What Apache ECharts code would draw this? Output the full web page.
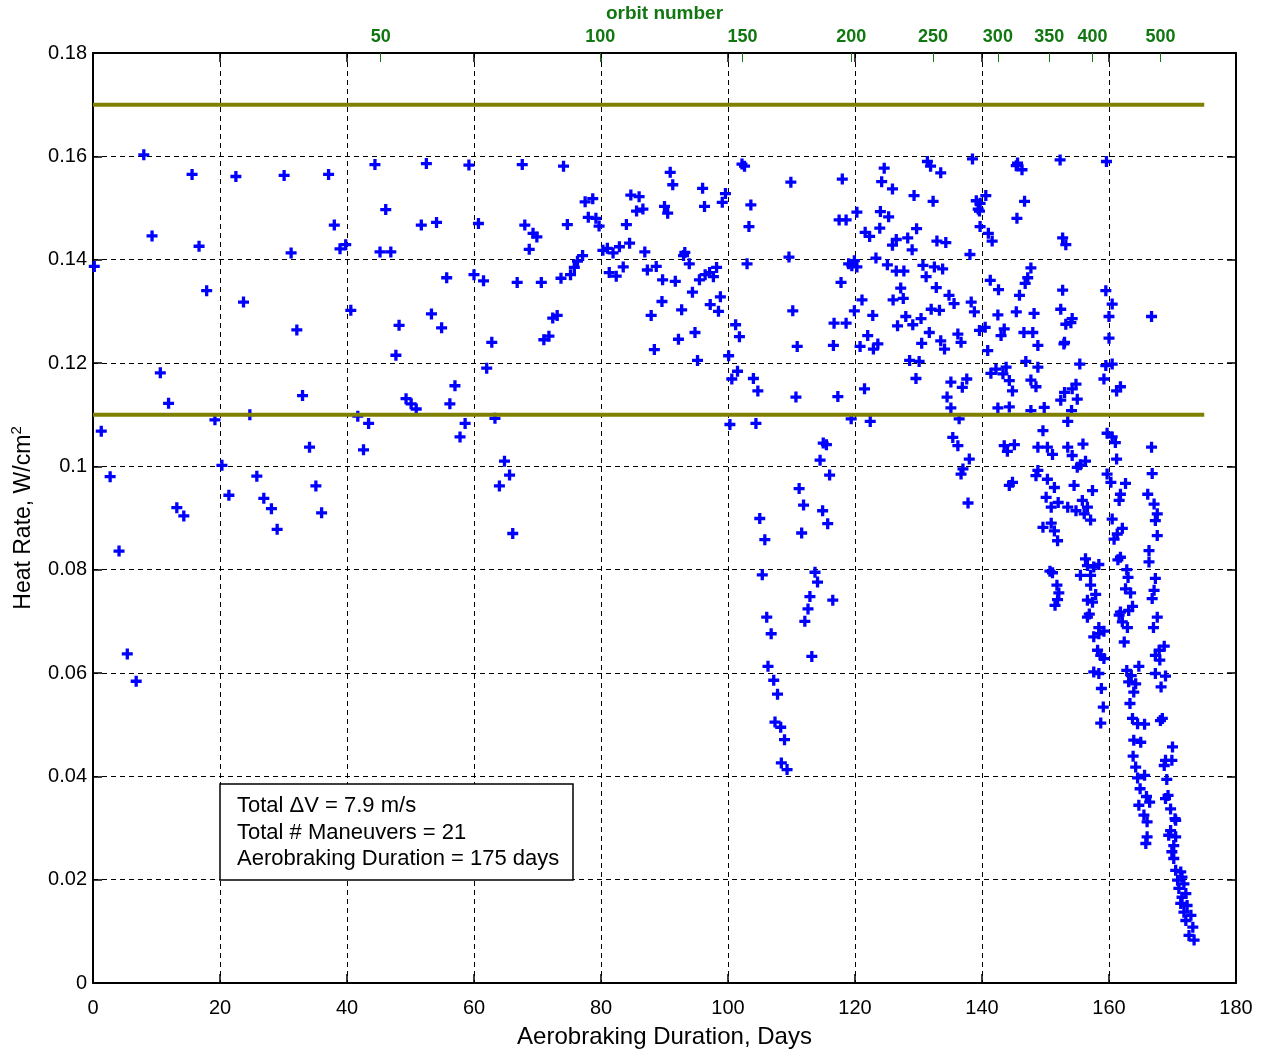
<!DOCTYPE html>
<html>
<head>
<meta charset="utf-8">
<script src="https://cdn.jsdelivr.net/npm/echarts@6/dist/echarts.min.js"></script>
<style>html,body{margin:0;padding:0;background:#fff;}#chart{width:1264px;height:1051px;}</style>
</head>
<body>
<div id="chart"></div>
<script>
// ---------- data (day, heat rate W/cm^2) ----------
const earlyPts = [
 [0.2,0.1387],[1.3,0.1068],[2.7,0.098],[4.1,0.0836],[5.4,0.0637],[6.8,0.0584],[8.0,0.1603],[9.3,0.1446],
 [10.6,0.1181],[11.9,0.1122],[13.2,0.092],[14.3,0.0904],[15.6,0.1565],[16.7,0.1426],[17.9,0.134],[19.2,0.109],
 [20.3,0.1002],[21.4,0.0944],[22.5,0.1561],[23.7,0.1318],[24.7,0.110],[25.8,0.0981],[26.9,0.0938],[28.1,0.0918],
 [29.0,0.0878],[30.1,0.1563],[31.2,0.1413],[32.1,0.1264],[33.0,0.1137],[34.1,0.1037],[35.1,0.0962],[36.0,0.091],
 [37.1,0.1565],[38.0,0.1467],[38.9,0.1421],[39.8,0.1429],[40.6,0.1302],[41.7,0.1097],[42.6,0.1032],[43.4,0.1083],
 [44.4,0.1584],[45.2,0.1415],[46.1,0.1497],[46.9,0.1415],[47.7,0.1215],[48.2,0.1273]
];
const midPts = [
 [49.3,0.1131],[50.1,0.1121],[50.9,0.1111],[51.7,0.1467],[52.5,0.1586],[53.3,0.1295],[54.1,0.1472],[54.9,0.1268],
 [55.7,0.1365],[56.2,0.1121],[57.0,0.1156],[57.8,0.1057],[58.6,0.1083],[59.2,0.1583],[60.0,0.1371],[60.7,0.147],
 [61.5,0.1359],[62.0,0.119],[62.8,0.124],[63.3,0.1093],[64.0,0.0962],[64.8,0.101],[65.6,0.0983],[66.1,0.087],
 [66.8,0.1356],[67.6,0.1584],[68.0,0.1467],[68.7,0.142],[69.3,0.1451],[69.9,0.1444],[70.6,0.1356],[71.0,0.1245],
 [71.8,0.1252],[72.4,0.1287],[73.1,0.1292],[73.7,0.1364],[74.1,0.1581],[74.7,0.1468],[75.2,0.1371],[75.8,0.1385],
 [76.3,0.1397],[77.1,0.1408],[77.5,0.1512],[78.0,0.1482],[78.7,0.1518],[79.2,0.148],[79.7,0.1465],[80.3,0.1418],
 [81.0,0.1422],[81.3,0.1375],[81.9,0.1413],[82.4,0.1368],[82.9,0.1425],[83.5,0.1386],[84.0,0.1468],[84.5,0.1432],
 [84.7,0.1525],[85.6,0.1494],[86.0,0.1522],[86.6,0.1498],[86.9,0.1415],[87.3,0.138],[87.9,0.1292],[88.4,0.1226],
 [88.7,0.1387],[89.6,0.1319],[89.7,0.1361],[90.0,0.1503],[90.5,0.149],[90.9,0.1569],[91.3,0.1545],[91.7,0.1358],
 [92.2,0.1246],[92.7,0.1303],[93.0,0.1408],[93.2,0.1414],[93.9,0.1392],[94.4,0.1337],[94.8,0.1259],[95.2,0.1205],
 [95.5,0.1361],[96.0,0.1538],[96.3,0.1503],[96.4,0.1371],[97.1,0.1375],[97.2,0.1313],[97.7,0.1367],[98.2,0.1385],
 [98.5,0.13],[98.8,0.1328],[99.1,0.1511],[99.6,0.1528],[100.1,0.1214],[100.3,0.1081],[100.6,0.1169],[101.2,0.1274],
 [101.5,0.1184],[101.8,0.1251],[102.2,0.1585],[102.6,0.1581],[103.0,0.1392],[103.3,0.1464],[103.6,0.1506],[104.0,0.117],
 [104.4,0.1083],[104.7,0.1146],[105.0,0.0899],[105.4,0.079],[105.8,0.0858],[106.1,0.0708],[106.3,0.0613],[106.8,0.0676],
 [107.2,0.0586],[107.4,0.0505],[107.8,0.0559],[108.3,0.0495],[108.4,0.0426],[108.9,0.0471],[109.3,0.0413],[109.6,0.1405],
 [109.9,0.155],[110.2,0.1301],[110.7,0.1134],[110.9,0.1232],[111.2,0.0957],[111.6,0.0871],[111.9,0.0925],[112.1,0.07],
 [112.6,0.0724],[112.9,0.0748],[113.2,0.0632],[113.7,0.0795],[114.1,0.0776],[114.5,0.1012],[114.9,0.0914],[115.0,0.1045],
 [115.5,0.1042],[115.7,0.0889],[116.0,0.0983],[116.5,0.0741],[116.6,0.1234],[116.7,0.1277],[117.3,0.1135],[117.5,0.1477],
 [117.8,0.1356],[118.0,0.1556],[118.6,0.1477],[118.6,0.1277],[119.0,0.1392],[119.4,0.1092],[119.5,0.1388],[119.9,0.1398],
 [119.9,0.1301],[120.3,0.1492],[120.3,0.1386],[120.8,0.1232],[121.1,0.1322],[121.5,0.115],[121.6,0.1453],[122.0,0.1253],
 [122.3,0.1445],[122.4,0.1087],[122.8,0.1292],[122.9,0.1227],[123.3,0.1403],[123.6,0.1237],[123.9,0.1461],[124.0,0.1493],
 [124.2,0.1551],[124.6,0.1577],[125.1,0.139],[125.3,0.1483]
];
const latePts = [
 [125.9,0.1537],[125.9,0.1428],[126.0,0.1322],[126.5,0.1439],[126.5,0.1378],[126.7,0.1272],[127.2,0.1345],[127.6,0.1325],
 [127.7,0.1378],[128.0,0.129],[128.3,0.1442],[128.6,0.1205],[129.0,0.1419],[129.1,0.1274],[129.3,0.1524],[129.6,0.117],
 [129.7,0.146],[130.1,0.1203],[130.4,0.1286],[130.5,0.1238],[130.7,0.1389],[131.2,0.1367],[131.4,0.159],[131.7,0.1259],
 [131.9,0.1581],[132.0,0.1304],[132.3,0.1513],[132.5,0.1386],[132.8,0.1346],[132.9,0.1436],[133.3,0.1302],[133.5,0.1568],
 [133.5,0.1243],[133.8,0.1382],[134.1,0.1227],[134.3,0.1433],[134.5,0.1134],[134.8,0.1331],[135.1,0.1163],[135.1,0.1113],
 [135.4,0.1056],[135.6,0.1315],[136.2,0.1256],[136.2,0.104],[136.4,0.1092],[136.7,0.124],[136.7,0.0985],[136.9,0.1153],
 [137.0,0.0995],[137.6,0.1169],[137.8,0.0929],[138.0,0.1014],[138.1,0.141],[138.3,0.1318],[138.5,0.1595],[138.8,0.1299],
 [139.1,0.1514],[139.4,0.1498],[139.6,0.1494],[139.6,0.1263],[139.7,0.1509],[139.7,0.1464],[140.5,0.1269],[140.6,0.1524],
 [140.9,0.1224],[141.0,0.1451],[141.3,0.136],[141.4,0.118],[141.6,0.1436],[142.2,0.1188],[142.5,0.1293],[142.5,0.1113],
 [142.6,0.1342],[143.0,0.1253],[143.3,0.1179],[143.5,0.1266],[143.5,0.104],[143.8,0.1192],[144.0,0.1029],[144.3,0.1166],
 [144.3,0.1115],[144.3,0.0963],[144.8,0.1146],[144.8,0.0969],[145.1,0.1042],[145.4,0.1582],[145.4,0.1299],[145.5,0.148],
 [145.6,0.1587],[145.9,0.1331],[146.3,0.1574],[146.6,0.1259],[146.7,0.1513],[146.8,0.1354],[146.9,0.1203],[147.2,0.1365],
 [147.7,0.1384],[147.7,0.1167],[147.7,0.1108],[148.0,0.1259],[148.2,0.1296],[148.5,0.1154],[148.5,0.0982],[148.8,0.1234],
 [148.8,0.1192],[148.8,0.1037],[148.8,0.0992],[149.6,0.1069],[149.6,0.0882],[149.8,0.1114],[150.1,0.094],[150.3,0.1037],
 [150.3,0.0975],[150.7,0.0797],[150.9,0.0921],[150.9,0.089],[151.1,0.1023],[151.1,0.0794],[151.4,0.0959],[151.4,0.0875],
 [151.5,0.0731],[151.8,0.077],[151.9,0.0856],[151.9,0.0742],[152.0,0.093],[152.1,0.0755],[152.3,0.1593],[152.4,0.1304],
 [152.4,0.1128],[152.7,0.1442],[152.7,0.1341],[152.9,0.1237],[153.0,0.124],[153.0,0.1143],[153.2,0.1429],[153.2,0.1275],
 [153.5,0.1087],[153.5,0.1037],[153.5,0.0921],[154.0,0.1278],[154.1,0.1108],[154.2,0.1286],[154.2,0.115],[154.2,0.1021],
 [154.5,0.0963],[154.8,0.1159],[154.8,0.0914],[155.0,0.113],[155.0,0.0998],[155.4,0.1198],[155.5,0.1003],[155.5,0.0789],
 [155.8,0.0934],[155.9,0.1043],[156.1,0.0908],[156.3,0.101],[156.3,0.0821],[156.6,0.0921],[156.6,0.0808],[156.6,0.0741],
 [156.6,0.0708],[156.9,0.0714],[157.1,0.0896],[157.1,0.0789],[157.1,0.077],[157.4,0.0953],[157.4,0.0737],[157.6,0.0805],
 [157.6,0.067],[157.6,0.0602],[157.9,0.0752],[158.2,0.0644],[158.4,0.081],[158.4,0.0688],[158.4,0.0676],[158.4,0.0599],
 [158.7,0.0634],[158.7,0.0503],[158.8,0.057],[159.1,0.0534],[159.2,0.1169],[159.2,0.0681],[159.2,0.0628],[159.5,0.134],
 [159.5,0.1195],[159.6,0.159],[159.7,0.1064],[159.7,0.0985],[160.0,0.129],[160.0,0.1248],[160.3,0.0969],[160.5,0.1314],
 [160.5,0.1198],[160.5,0.1057],[160.5,0.0898],[160.8,0.0859],[161.0,0.1046],[161.2,0.1146],[161.2,0.1014],[161.3,0.0869],
 [161.4,0.0819],[161.6,0.0934],[161.6,0.0712],[161.8,0.1154],[161.8,0.0946],[161.8,0.0824],[161.8,0.0718],[162.1,0.088],
 [162.1,0.0699],[162.4,0.066],[162.6,0.0967],[162.6,0.0763],[162.8,0.08],[162.8,0.0605],[162.9,0.0688],[163.0,0.0785],
 [163.1,0.0721],[163.1,0.0583],[163.3,0.0541],[163.4,0.0755],[163.5,0.0595],[163.7,0.0729],[163.7,0.0512],[163.8,0.0439],
 [163.9,0.0563],[163.9,0.047],[164.2,0.0579],[164.2,0.0418],[164.5,0.0502],[164.5,0.0397],[164.7,0.0613],[164.7,0.0344],
 [164.9,0.0376],[165.0,0.0466],[165.5,0.0325],[165.6,0.0501],[165.6,0.0402],[165.8,0.027],[165.9,0.0361],[166.0,0.0312],
 [166.0,0.0283],[166.1,0.0946],[166.3,0.0837],[166.3,0.0815],[166.4,0.035],[166.7,0.129],[166.7,0.1037],[166.8,0.0986],
 [166.8,0.0744],[167.0,0.0688],[167.1,0.0927],[167.1,0.076],[167.3,0.0895],[167.3,0.0783],[167.3,0.0634],[167.3,0.0599],
 [167.6,0.0908],[167.6,0.0866],[167.6,0.0708],[167.9,0.0644],[168.0,0.0625],[168.1,0.0508],[168.2,0.0573],[168.4,0.0512],
 [168.7,0.0652],[168.7,0.0421],[168.9,0.0594],[168.9,0.0431],[168.9,0.0357],[169.1,0.0394],[169.3,0.0363],[169.4,0.0286],
 [169.7,0.0337],[169.7,0.0295],[169.9,0.0431],[169.9,0.0254],[170.0,0.0457],[170.2,0.0266],[170.2,0.0241],[170.4,0.0318],
 [170.5,0.0315],[170.5,0.0283],[170.5,0.0218],[170.8,0.0199],[171.0,0.0183],[171.3,0.0215],[171.3,0.0154],[171.5,0.0205],
 [171.5,0.0166],[171.8,0.0192],[171.8,0.0137],[172.1,0.0173],[172.1,0.0121],[172.3,0.015],[172.6,0.0092],[172.9,0.0131],
 [173.2,0.0108],[173.4,0.0083]
];
// corridor limits (W/cm^2) and their extent in days
const corridorLimits = [0.17, 0.11];
const corridorDays = [0, 175];
// top axis: orbit number vs. day
const orbitNumbers = [50, 100, 150, 200, 250, 300, 350, 400, 500];
const orbitDays = [45.3, 79.9, 102.3, 119.4, 132.3, 142.5, 150.6, 157.4, 168.1];
// annotation
const noteLines = ['Total \u0394V = 7.9 m/s', 'Total # Maneuvers = 21', 'Aerobraking Duration = 175 days'];

// ---------- chart ----------
const FONT = '"Liberation Sans", Arial, Helvetica, sans-serif';
const GREEN = '#117711';
const OLIVE = '#808000';
const PLUS = 'path://M3.5,0H6.5V3.5H10V6.5H6.5V10H3.5V6.5H0V3.5H3.5Z';
const dash = {type: [5, 4], color: '#000', width: 1};
const chart = echarts.init(document.getElementById('chart'));

const option = {
  backgroundColor: '#fff',
  animation: false,
  textStyle: {fontFamily: FONT},
  grid: {left: 93, right: 28, top: 53, bottom: 68, containLabel: false, outerBoundsMode: 'none'},
  xAxis: [
    {
      type: 'value', min: 0, max: 180, interval: 20, position: 'bottom',
      axisLine: {show: true, onZero: false, lineStyle: {color: '#000', width: 2}},
      axisTick: {show: true, inside: true, length: 9, lineStyle: {color: '#000', width: 1.5}},
      axisLabel: {color: '#000', fontSize: 20, margin: 15, fontFamily: FONT},
      splitLine: {show: true, lineStyle: dash},
      name: 'Aerobraking Duration, Days', nameLocation: 'middle', nameGap: 42,
      nameTextStyle: {color: '#000', fontSize: 24, fontFamily: FONT}
    },
    {
      type: 'value', min: 0, max: 180, interval: 20, position: 'top',
      axisLine: {show: true, onZero: false, lineStyle: {color: '#000', width: 2}},
      axisTick: {show: true, inside: true, length: 9, lineStyle: {color: '#000', width: 1.5}},
      axisLabel: {show: false}, splitLine: {show: false}
    },
    {
      type: 'value', min: 0, max: 180, position: 'top',
      axisLine: {show: false, onZero: false},
      axisTick: {show: true, inside: true, length: 9, customValues: orbitDays, lineStyle: {color: GREEN, width: 1}},
      axisLabel: {
        show: true, customValues: orbitDays, color: GREEN, fontWeight: 'bold', fontSize: 18, margin: 7, fontFamily: FONT,
        formatter: function (v) {
          let best = 0;
          for (let i = 1; i < orbitDays.length; i++) if (Math.abs(orbitDays[i] - v) < Math.abs(orbitDays[best] - v)) best = i;
          return String(orbitNumbers[best]);
        }
      },
      splitLine: {show: false},
      name: 'orbit number', nameLocation: 'middle', nameGap: 30,
      nameTextStyle: {color: GREEN, fontWeight: 'bold', fontSize: 19, fontFamily: FONT}
    }
  ],
  yAxis: [
    {
      type: 'value', min: 0, max: 0.18, interval: 0.02, position: 'left',
      axisLine: {show: true, onZero: false, lineStyle: {color: '#000', width: 2}},
      axisTick: {show: true, inside: true, length: 9, lineStyle: {color: '#000', width: 1.5}},
      axisLabel: {color: '#000', fontSize: 20, margin: 6, fontFamily: FONT, formatter: v => String(+v.toFixed(2))},
      splitLine: {show: true, lineStyle: dash},
      name: 'Heat Rate, W/cm{sup|2}', nameLocation: 'middle', nameGap: 54, nameRotate: 90,
      nameTextStyle: {color: '#000', fontSize: 23, fontFamily: FONT, lineHeight: 28,
        rich: {sup: {fontSize: 15, fontFamily: FONT, color: '#000', verticalAlign: 'top', lineHeight: 28}}}
    },
    {
      type: 'value', min: 0, max: 0.18, interval: 0.02, position: 'right',
      axisLine: {show: true, onZero: false, lineStyle: {color: '#000', width: 2}},
      axisTick: {show: true, inside: true, length: 9, lineStyle: {color: '#000', width: 1.5}},
      axisLabel: {show: false}, splitLine: {show: false}
    }
  ],
  series: [
    {
      type: 'scatter', xAxisIndex: 0, yAxisIndex: 0, symbol: PLUS, symbolSize: 11,
      itemStyle: {color: '#0000ff', opacity: 1}, z: 3,
      data: earlyPts.concat(midPts, latePts)
    }
  ].concat(corridorLimits.map(lim => ({
    type: 'line', xAxisIndex: 0, yAxisIndex: 0, showSymbol: false, symbol: 'none', z: 4,
    lineStyle: {color: OLIVE, width: 4}, silent: true,
    data: corridorDays.map(d => [d, lim])
  }))),
  graphic: [
    {type: 'rect', z: 100, shape: {x: 220, y: 784, width: 353, height: 96},
      style: {fill: '#fff', stroke: '#000', lineWidth: 1.5}},
    {type: 'text', z: 101, x: 237, y: 793,
      style: {text: noteLines.join('\n'), fill: '#000', fontSize: 22, fontFamily: FONT, lineHeight: 26.5, verticalAlign: 'top'}}
  ]
};
chart.setOption(option);
</script>
</body>
</html>
